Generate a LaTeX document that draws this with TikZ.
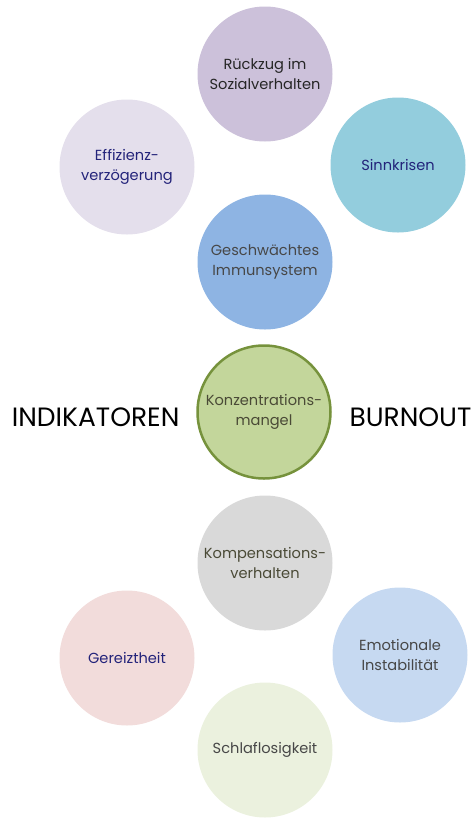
\documentclass[tikz,border=0pt]{standalone}
\usepackage{fontspec}
\setmainfont{Poppins}
\usepackage{xcolor}
\usepackage{tikz}

\definecolor{navytext}{HTML}{23237A}
\definecolor{greytext}{HTML}{474747}
\definecolor{olivetext}{HTML}{4A4A36}
\definecolor{centreline}{HTML}{76923C}
\definecolor{lavender}{HTML}{CCC1DA}
\definecolor{paleviolet}{HTML}{E4DFEC}
\definecolor{aqua}{HTML}{93CDDD}
\definecolor{midblue}{HTML}{8EB4E3}
\definecolor{lightgreen}{HTML}{C3D69B}
\definecolor{lightgrey}{HTML}{D9D9D9}
\definecolor{palerose}{HTML}{F2DCDB}
\definecolor{paleblue}{HTML}{C6D9F1}
\definecolor{palegreen}{HTML}{EBF1DE}

\tikzset{
  bubble/.style={circle, minimum size=135pt, inner sep=0pt, align=center,
                 font=\fontsize{14.6}{20}\selectfont},
  bigword/.style={font=\fontsize{26.5}{30}\selectfont, text=black}
}

\begin{document}
\begin{tikzpicture}[x=1pt,y=-1pt]
                \useasboundingbox (0,0) rectangle (476,823);

                % upper group
                \node[bubble, fill=lavender, text=black!85] (Rueckzug) at (265, 74) {Rückzug im\\Sozialverhalten};
                \node[bubble, fill=paleviolet, text=navytext] (Effizienz) at (127, 167) {Effizienz-\\verzögerung};
                \node[bubble, fill=aqua, text=navytext] (Sinn) at (398, 165) {Sinnkrisen};
                \node[bubble, fill=midblue, text=greytext] (Immun) at (265, 262) {Geschwächtes\\Immunsystem};

                % centre
                \node[bubble, minimum size=133pt, fill=lightgreen, draw=centreline, line width=2.5pt, text=olivetext] (Konz) at (264, 412) {Konzentrations-\\mangel};
                \node[bigword, anchor=east] (Indik) at (183, 417) {INDIKATOREN};
                \node[bigword, anchor=west] (Burn) at (346, 417) {BURNOUT};

                % lower group
                \node[bubble, fill=lightgrey, text=olivetext] (Kompens) at (265, 563) {Kompensations-\\verhalten};
                \node[bubble, fill=palerose, text=navytext] (Gereizt) at (127, 658) {Gereiztheit};
                \node[bubble, fill=paleblue, text=greytext] (Emot) at (400, 655) {Emotionale\\Instabilität};
                \node[bubble, fill=palegreen, text=greytext] (Schlaf) at (265, 750) {Schlaflosigkeit};
            \end{tikzpicture}
\end{document}
